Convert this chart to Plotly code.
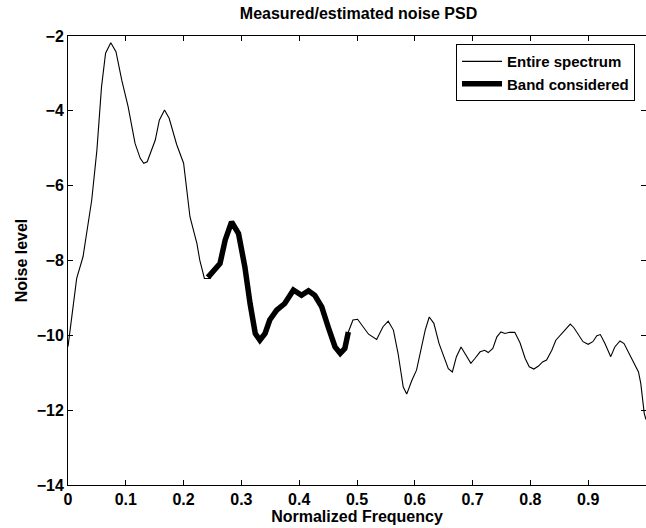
import plotly.graph_objects as go

# Entire spectrum (normalized frequency, noise level)
freq = [0.000, 0.009, 0.015, 0.026, 0.041, 0.050, 0.058, 0.065, 0.074, 0.083,
        0.093, 0.104, 0.116, 0.125, 0.131, 0.137, 0.151, 0.158, 0.167, 0.175,
        0.188, 0.200, 0.205, 0.211, 0.217, 0.223, 0.228, 0.236, 0.246, 0.251,
        0.263, 0.272, 0.283, 0.295, 0.306, 0.315, 0.324, 0.332, 0.341, 0.349,
        0.361, 0.375, 0.390, 0.404, 0.416, 0.427, 0.439, 0.450, 0.462, 0.471,
        0.479, 0.485, 0.493, 0.501, 0.508, 0.520, 0.534, 0.545, 0.554, 0.563,
        0.571, 0.577, 0.580, 0.586, 0.595, 0.603, 0.609, 0.618, 0.625, 0.633,
        0.642, 0.649, 0.658, 0.665, 0.672, 0.680, 0.688, 0.697, 0.704, 0.713,
        0.721, 0.727, 0.735, 0.742, 0.749, 0.756, 0.764, 0.773, 0.782, 0.791,
        0.798, 0.806, 0.814, 0.821, 0.828, 0.837, 0.844, 0.852, 0.861, 0.869,
        0.875, 0.883, 0.891, 0.900, 0.908, 0.915, 0.921, 0.929, 0.939, 0.946,
        0.955, 0.962, 0.969, 0.978, 0.987, 0.991, 0.994, 0.997, 1.000]
level = [-10.30, -9.24, -8.48, -7.90, -6.39, -5.05, -3.36, -2.46, -2.18, -2.42,
         -3.18, -3.89, -4.87, -5.27, -5.40, -5.36, -4.78, -4.25, -3.98, -4.20,
         -4.90, -5.40, -6.03, -6.83, -7.19, -7.54, -7.99, -8.48, -8.48, -8.30,
         -8.08, -7.45, -6.97, -7.28, -8.17, -9.15, -9.95, -10.13, -9.95, -9.59,
         -9.33, -9.15, -8.79, -8.93, -8.81, -8.93, -9.24, -9.77, -10.31, -10.48,
         -10.35, -9.91, -9.59, -9.57, -9.73, -9.97, -10.11, -9.77, -9.62, -9.86,
         -10.48, -11.02, -11.38, -11.57, -11.20, -10.93, -10.48, -9.86, -9.51, -9.68,
         -10.22, -10.53, -10.89, -10.98, -10.57, -10.31, -10.53, -10.75, -10.62, -10.44,
         -10.40, -10.46, -10.35, -10.04, -9.91, -9.95, -9.92, -9.92, -10.20, -10.62,
         -10.84, -10.90, -10.82, -10.71, -10.66, -10.40, -10.13, -9.99, -9.82, -9.70,
         -9.79, -9.99, -10.17, -10.24, -10.17, -10.01, -9.98, -10.22, -10.57, -10.31,
         -10.15, -10.22, -10.44, -10.71, -10.98, -11.29, -11.64, -12.09, -12.25]

# Band considered
band_freq = [0.242, 0.251, 0.263, 0.272, 0.283, 0.295, 0.306, 0.315, 0.324, 0.332,
             0.341, 0.349, 0.361, 0.375, 0.390, 0.404, 0.416, 0.427, 0.439, 0.450,
             0.462, 0.471, 0.479, 0.485]
band_level = [-8.45, -8.30, -8.08, -7.45, -6.97, -7.28, -8.17, -9.15, -9.95, -10.13,
              -9.95, -9.59, -9.33, -9.15, -8.79, -8.93, -8.81, -8.93, -9.24, -9.77,
              -10.31, -10.48, -10.35, -9.91]

x_ticks = [0, 0.1, 0.2, 0.3, 0.4, 0.5, 0.6, 0.7, 0.8, 0.9, 1]
x_tick_text = ["0", "0.1", "0.2", "0.3", "0.4", "0.5", "0.6", "0.7", "0.8", "0.9", "1"]
y_ticks = [-14, -12, -10, -8, -6, -4, -2]

FONT = "Liberation Sans, Arial, sans-serif"

fig = go.Figure()
fig.add_trace(go.Scatter(x=freq, y=level, mode="lines", name="Entire spectrum",
                         line=dict(color="black", width=1.1)))
fig.add_trace(go.Scatter(x=band_freq, y=band_level, mode="lines", name="Band considered",
                         line=dict(color="black", width=5.5)))

axis_common = dict(showline=True, linecolor="black", linewidth=1, mirror="ticks",
                   ticks="inside", ticklen=5, tickcolor="black", showgrid=False,
                   zeroline=False,
                   tickfont=dict(family=FONT, size=16, color="black", weight="bold"))

fig.update_layout(
    width=646, height=528,
    margin=dict(l=68, r=0, t=36, b=43),
    paper_bgcolor="white", plot_bgcolor="white",
    title=dict(text="Measured/estimated noise PSD", x=0.555, xanchor="center",
               y=1 - 13 / 528, yanchor="middle",
               font=dict(family=FONT, size=16, color="black", weight="bold")),
    xaxis=dict(range=[0, 1], tickvals=x_ticks, ticktext=x_tick_text,
               title=dict(text="Normalized Frequency", standoff=1,
                          font=dict(family=FONT, size=16, color="black", weight="bold")),
               **axis_common),
    yaxis=dict(range=[-14, -2], tickvals=y_ticks,
               title=dict(text="Noise level", standoff=5,
                          font=dict(family=FONT, size=16, color="black", weight="bold")),
               **axis_common),
    legend=dict(x=0.981, xanchor="right", y=0.982, yanchor="top",
                bgcolor="white", bordercolor="black", borderwidth=1,
                font=dict(family=FONT, size=15, color="black", weight="bold"),
                tracegroupgap=0, itemwidth=40, entrywidth=185, entrywidthmode="pixels"),
    showlegend=True,
)

fig.write_html("out.html")
